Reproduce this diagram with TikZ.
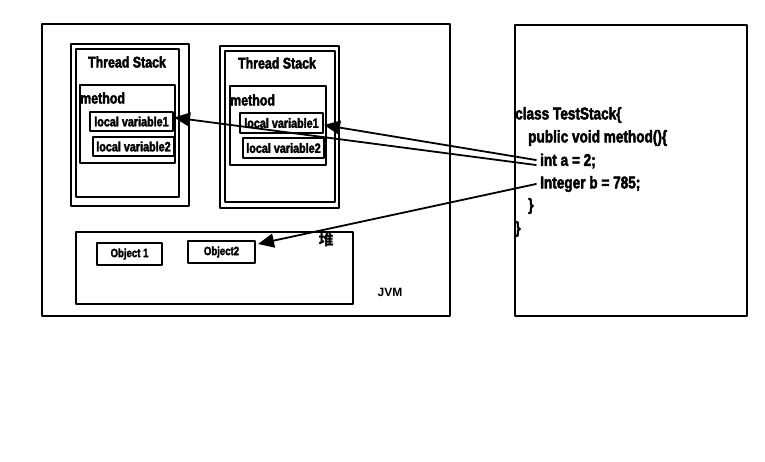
\documentclass[tikz,border=0pt]{standalone}
\usepackage{fontspec}
\setmainfont{Liberation Sans}[FakeStretch=0.8,BoldFeatures={FakeBold=2.5}]
\newfontfamily\wide{Liberation Sans}
\newfontfamily\cjk{Noto Sans CJK SC}
\usetikzlibrary{arrows.meta}

\tikzset{
  frame/.style={line width=2pt},
  varbox/.style={draw,line width=2pt,inner sep=0pt,font=\fontsize{13.5}{15}\selectfont\bfseries},
  objbox/.style={draw,line width=2pt,inner sep=0pt,minimum height=22pt,font=\fontsize{12}{14}\selectfont\bfseries},
  title/.style={font=\fontsize{15.5}{17}\selectfont\bfseries,inner sep=0pt},
  code/.style={anchor=west,inner sep=0pt,font=\fontsize{17}{19}\selectfont\bfseries},
  ref/.style={line width=1.8pt,-{Triangle[length=16pt,width=14pt]}}
}

\begin{document}
\begin{tikzpicture}[line cap=round,line join=round,x=1pt,y=-1pt]
\useasboundingbox (0,0) rectangle (765,461);
% JVM and code frames
\draw [frame] (42,24) rectangle (450,316);
\draw [frame] (515,25) rectangle (747,316);
% first thread stack
\draw [frame] (71,44) rectangle (189,206);
\draw [frame] (76,49) rectangle (179,197);
\node [title] (tsA) at (127,62) {Thread Stack};
\draw [frame] (80,85) rectangle (175,163);
\node [title,anchor=west] (mA) at (80,98) {method};
\node [varbox,minimum width=83pt,minimum height=19pt] (lvA1) at (131.5,121.5) {local variable1};
\node [varbox,minimum width=81pt,minimum height=19pt] (lvA2) at (133.5,146.5) {local variable2};
% second thread stack
\draw [frame] (220,46) rectangle (339,208);
\draw [frame] (225,51) rectangle (335,202);
\node [title] (tsB) at (277,63) {Thread Stack};
\draw [frame] (230,86) rectangle (326,165);
\node [title,anchor=west] (mB) at (230,100) {method};
\node [varbox,minimum width=83pt,minimum height=20pt] (lvB1) at (281.5,123) {local variable1};
\node [varbox,minimum width=81pt,minimum height=20pt] (lvB2) at (283.5,148) {local variable2};
% heap
\draw [frame] (76,232) rectangle (353,304);
\node [objbox,minimum width=65pt] (objA) at (129.5,254) {Object 1};
\node [objbox,minimum width=67pt] (objB) at (221.5,252) {Object2};
\node [font=\fontsize{15}{17}\selectfont\cjk\bfseries,inner sep=0pt] (heap) at (326,240) {堆};
\node [font=\fontsize{12}{14}\selectfont\wide\bfseries,inner sep=0pt] (jvm) at (390,292) {JVM};
% code
\node [code] (c1) at (515,115) {class TestStack\{};
\node [code] (c2) at (528,138) {public void method()\{};
\node [code] (c3) at (540,161) {int a = 2;};
\node [code] (c4) at (540,184) {Integer b = 785;};
\node [code] (c5) at (528,206) {\}};
\node [code] (c6) at (515,229) {\}};
% references
\draw [ref] ([shift={(-4,-1)}]c3.west) -- ([yshift=-2]lvB1.east);
\draw [ref] ([shift={(-4,4)}]c3.west) -- ([yshift=4]lvA1.east);
\draw [ref] ([xshift=-4]c4.west) -- ([shift={(2,-8)}]objB.east);
\end{tikzpicture}
\end{document}
